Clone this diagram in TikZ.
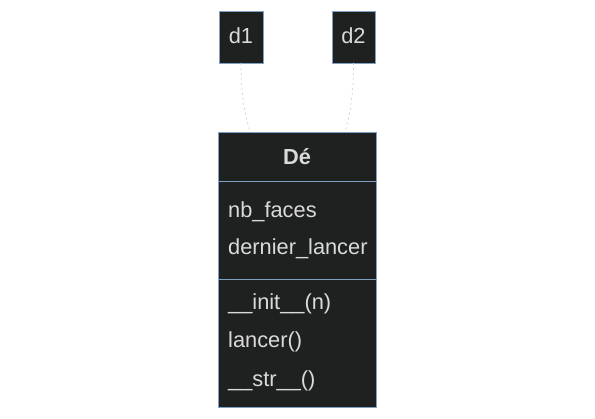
\documentclass[tikz,border=0pt]{standalone}
\usepackage{fontspec}
\setmainfont{Liberation Sans}
\definecolor{boxfill}{HTML}{1F2020}
\definecolor{boxline}{HTML}{81A1C4}
\definecolor{txt}{HTML}{DADADA}
\definecolor{link}{HTML}{D0D0D0}
\begin{document}
\begin{tikzpicture}[x=1pt,y=-1pt,
  objbox/.style={draw=boxline, fill=boxfill, line width=0.9pt},
  lbl/.style={text=txt, font=\fontsize{21.8}{24}\selectfont, inner sep=0pt},
  lnk/.style={draw=link, dash pattern=on 2pt off 3pt, line width=0.7pt}]
\useasboundingbox (0,0) rectangle (595,419);
% objects
\path[objbox] (219,11) rectangle (263,63);
\node[lbl] (d1) at (241,36) {d1};
\coordinate (d1b) at (241,63);
\path[objbox] (332,11) rectangle (375,63);
\node[lbl] (d2) at (353.5,36) {d2};
\coordinate (d2b) at (353.5,63);
% class
\path[objbox] (218,132) rectangle (376,407);
\draw[boxline, line width=0.9pt] (218,181) -- (376,181);
\draw[boxline, line width=0.9pt] (218,279) -- (376,279);
\node[lbl, font=\fontsize{21.8}{24}\selectfont\bfseries] (title) at (297,157) {Dé};
\node[lbl, anchor=west] (a1) at (228,211.5) {nb\_faces};
\node[lbl, anchor=west] (a2) at (228,248.5) {dernier\_lancer};
\node[lbl, anchor=west] (m1) at (228,303.5) {\_\_init\_\_(n)};
\node[lbl, anchor=west] (m2) at (228,341.5) {lancer()};
\node[lbl, anchor=west] (m3) at (228,380.5) {\_\_str\_\_()};
\coordinate (c1) at (250,132);
\coordinate (c2) at (345,132);
\draw[lnk] (d1b) .. controls (241,95) and (245,115) .. (c1);
\draw[lnk] (d2b) .. controls (353.5,95) and (350,115) .. (c2);
\end{tikzpicture}
\end{document}
